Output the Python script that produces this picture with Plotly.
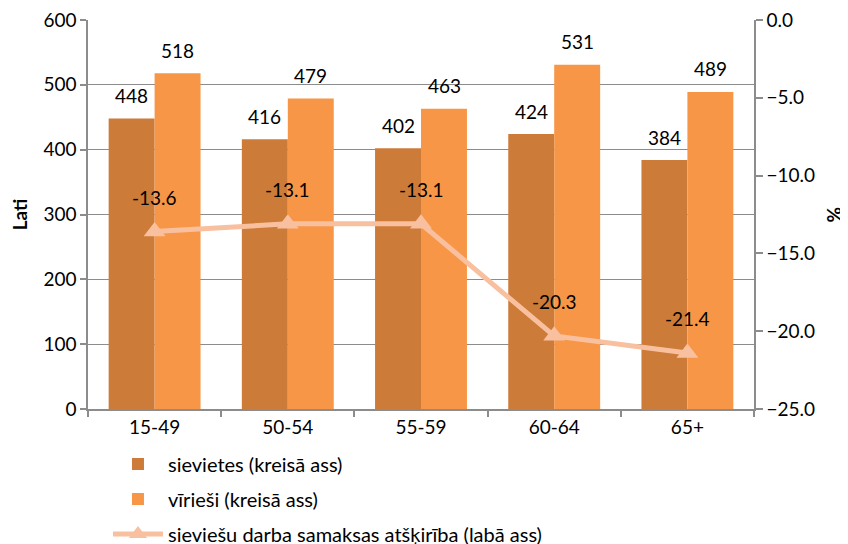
import plotly.graph_objects as go

categories = ["15-49", "50-54", "55-59", "60-64", "65+"]
women = [448, 416, 402, 424, 384]
men = [518, 479, 463, 531, 489]
gap_pct = [-13.6, -13.1, -13.1, -20.3, -21.4]

name_women = "sievietes (kreisā ass)"
name_men = "vīrieši (kreisā ass)"
name_gap = "sieviešu darba samaksas atšķirība (labā ass)"

C_WOMEN = "#CC7B38"
C_MEN = "#F79646"
C_LINE = "#F9C09F"
GRID = "#8C8C8C"
FONT = "Lato"
FS = 19

fig = go.Figure()
fig.add_trace(go.Bar(x=categories, y=women, name=name_women, marker_color=C_WOMEN,
                     marker_line_width=0, legendgroup="a"))
fig.add_trace(go.Bar(x=categories, y=men, name=name_men, marker_color=C_MEN,
                     marker_line_width=0, legendgroup="b"))
fig.add_trace(go.Scatter(x=categories, y=gap_pct, name=name_gap, yaxis="y2",
                         mode="lines+markers",
                         line=dict(color=C_LINE, width=5),
                         marker=dict(symbol="triangle-up", size=19, color=C_LINE),
                         legendgroup="c"))

ann = []
for c, v in zip(categories, women):
    ann.append(dict(x=c, y=v, xref="x", yref="y", text=str(v), showarrow=False,
                    xshift=-23, yshift=23, yanchor="middle",
                    font=dict(size=FS, color="#000", family=FONT)))
for c, v in zip(categories, men):
    ann.append(dict(x=c, y=v, xref="x", yref="y", text=str(v), showarrow=False,
                    xshift=23, yshift=23, yanchor="middle",
                    font=dict(size=FS, color="#000", family=FONT)))
for c, v in zip(categories, gap_pct):
    ann.append(dict(x=c, y=v, xref="x", yref="y2", text=f"{v:.1f}", showarrow=False,
                    yshift=34, yanchor="middle",
                    font=dict(size=FS, color="#000", family=FONT)))
# right axis title
ann.append(dict(x=1, y=0.5, xref="paper", yref="paper", text="<b>%</b>", showarrow=False,
                textangle=-90, xanchor="center", yanchor="middle", xshift=79,
                font=dict(size=FS, color="#000", family=FONT)))

# page body has an 8px default margin, so the figure is 8px smaller each way
fig.update_layout(
    width=840, height=536,
    margin=dict(l=80, r=94, t=12, b=135, autoexpand=False),
    paper_bgcolor="white", plot_bgcolor="white",
    font=dict(family=FONT, size=FS, color="#000"),
    barmode="group", bargap=0.31, bargroupgap=0,
    annotations=ann,
    showlegend=True,
    legend=dict(orientation="v", x=0.030, xanchor="left", y=-0.091, yanchor="top",
                itemwidth=50, tracegroupgap=6, font=dict(size=20, family=FONT),
                bgcolor="rgba(0,0,0,0)"),
    xaxis=dict(showline=True, linecolor=GRID, linewidth=1.5,
               ticks="outside", ticklen=6, tickcolor=GRID, tickwidth=1.5,
               tickson="boundaries", showgrid=False,
               tickfont=dict(size=FS)),
    yaxis=dict(range=[0, 600], dtick=100, showline=True, linecolor=GRID, linewidth=1.5,
               ticks="outside", ticklen=6, tickcolor=GRID, tickwidth=1.5,
               ticklabeloverflow="allow",
               showgrid=True, gridcolor=GRID, gridwidth=1.2, zeroline=False,
               tickfont=dict(size=FS),
               title=dict(text="<b>Lati</b>", font=dict(size=FS), standoff=12)),
    yaxis2=dict(range=[-25, 0], dtick=5, tickformat=".1f", overlaying="y", side="right",
                showline=True, linecolor=GRID, linewidth=1.5,
                ticks="outside", ticklen=7, tickcolor=GRID, tickwidth=1.5,
                ticklabeloverflow="allow",
                showgrid=False, zeroline=False, tickfont=dict(size=FS)),
)

fig.write_html("out.html")
